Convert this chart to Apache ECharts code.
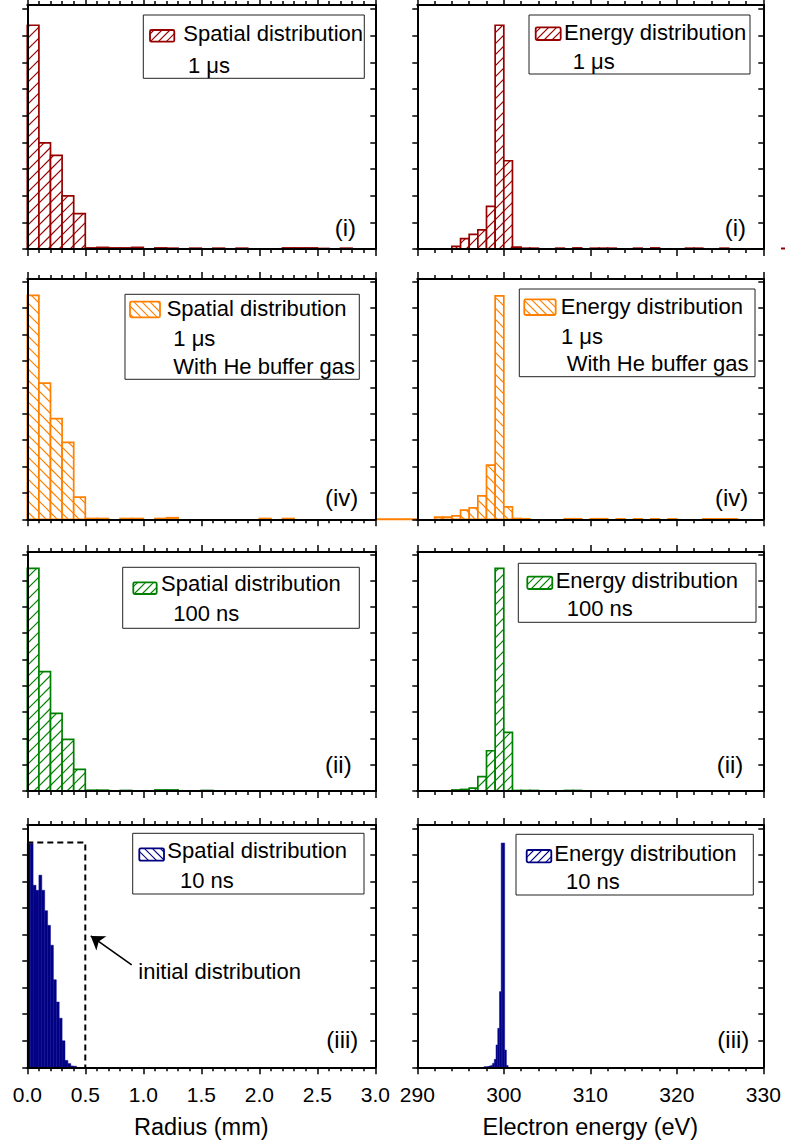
<!DOCTYPE html>
<html><head><meta charset="utf-8">
<script src="https://cdn.jsdelivr.net/npm/echarts@6/dist/echarts.min.js"></script>
<style>html,body{margin:0;padding:0;background:#fff}#c{width:785px;height:1146px}</style>
</head><body><div id="c"></div>
<script>
// ================= DATA (arbitrary units: 1 = one y tick) =================
const radiusTickLabels = ['0.0', '0.5', '1.0', '1.5', '2.0', '2.5', '3.0'];
const energyTickLabels = ['290', '300', '310', '320', '330'];

// spatial histograms: 0.1 mm bins starting at 0 mm
const spatialBinWidth = 0.1;
const spatial_i  = [8.39, 3.98, 3.51, 1.99, 1.33, 0.04, 0.06, 0.04, 0.04, 0.06, 0, 0.04, 0.03, 0, 0.03, 0, 0.03, 0, 0.03, 0, 0, 0, 0.04, 0.04, 0.04, 0.02, 0, 0.03, 0, 0];
const spatial_iv = [8.48, 5.16, 3.81, 2.91, 0.84, 0.03, 0.03, 0, 0.03, 0.03, 0, 0.03, 0.06, 0, 0, 0, 0, 0, 0, 0, 0.03, 0, 0.03, 0, 0, 0, 0, 0, 0, 0];
const spatial_ii = [8.47, 4.54, 2.95, 1.96, 0.82, 0.03, 0.03, 0, 0.02, 0, 0, 0.04, 0.04, 0, 0, 0.02, 0, 0, 0, 0, 0, 0, 0, 0, 0, 0, 0, 0, 0, 0];
// 10 ns spatial: 0.025 mm bins starting at 0 mm
const spatialFineBinWidth = 0.025;
const spatial_iii = [8.43, 8.43, 6.86, 6.67, 7.24, 6.67, 5.9, 5.35, 4.6, 3.3, 2.46, 1.85, 1.0, 0.26, 0.14, 0.05, 0.04];

// energy histograms: 1 eV bins starting at 290 eV
const energyBinWidth = 1;
const energyStart = 290;
const energy_i  = [0, 0, 0, 0, 0.10, 0.39, 0.55, 0.72, 1.60, 8.39, 3.31, 0.07, 0.03, 0.03, 0, 0, 0.03, 0, 0.04, 0, 0.03, 0.03, 0.03, 0, 0, 0.03, 0, 0.04, 0, 0, 0, 0.03, 0.03, 0, 0, 0.03, 0, 0, 0, 0];
const energy_iv = [0, 0, 0.08, 0.08, 0.13, 0.35, 0.43, 0.89, 2.05, 8.46, 0.47, 0.03, 0.02, 0, 0, 0, 0, 0.02, 0.02, 0, 0.02, 0.02, 0, 0.015, 0, 0.015, 0, 0.015, 0, 0.015, 0, 0, 0, 0.015, 0.015, 0.015, 0.015, 0, 0, 0];
const energy_ii = [0, 0, 0, 0, 0.04, 0.06, 0.11, 0.55, 1.53, 8.47, 2.23, 0.02, 0.02, 0.02, 0, 0, 0, 0.02, 0.02, 0, 0, 0, 0, 0, 0, 0, 0, 0, 0, 0, 0, 0, 0, 0, 0, 0, 0, 0, 0, 0];
// 10 ns energy: 0.2 eV bins starting at 297.7 eV
const energyFineBinWidth = 0.2;
const energyFineStart = 297.7;
const energy_iii = [0.02, 0.02, 0.03, 0.05, 0.07, 0.15, 0.3, 0.84, 1.47, 2.85, 8.45, 8.45, 0.65, 0.07];

// initial distribution (dashed box) and its arrow, in data units of panel (iii)
const initialDistX = [0, 0.5, 0.5];
const initialDistY = [8.47, 8.47, 0];
const arrowFrom = [0.9, 3.86];
const arrowTo = [0.547, 4.95];

const panelLabels = ['(i)', '(iv)', '(ii)', '(iii)'];
const legendTitles = ['Spatial distribution', 'Energy distribution'];
const legendNotes = [['1 μs'], ['1 μs', 'With He buffer gas'], ['100 ns'], ['10 ns']];
const annotationText = 'initial distribution';
const xAxisNames = ['Radius (mm)', 'Electron energy (eV)'];

// ================= LAYOUT / STYLE =================
const FONT = '"Liberation Sans", Arial, Helvetica, sans-serif';
const rowLayout = [
  { top: 5,   height: 244,   ymax: 9.15 },
  { top: 279, height: 240.3, ymax: 9.10 },
  { top: 552, height: 239,   ymax: 9.09 },
  { top: 825, height: 242.3, ymax: 9.13 }
];
const colLayout = [{ left: 27.3, width: 348 }, { left: 417.3, width: 346 }];
const rowColors = ['#960000', '#ff8000', '#008000', '#000080'];
const rowHatch = [['/', '/'], ['\\', '\\'], ['/', '/'], ['\\', '/']];

// legend boxes: [boxX, boxY, boxW, boxH], swatch [x, y, w, h], title [x, y], notes x[], y[]
const legendLayout = [
  [{ box: [143.3, 15, 221, 63.3], sw: [150, 30, 24.3, 11.7], t: [183.3, 33.3], nx: [188], ny: [65] },
   { box: [529, 15, 221, 59], sw: [535.7, 27.3, 25, 12.7], t: [564, 32.3], nx: [572.7], ny: [61.7] }],
  [{ box: [125, 294.3, 234.3, 85], sw: [130, 301.7, 30, 15.6], t: [166.7, 308.3], nx: [173.3, 173.3], ny: [338.3, 366.7] },
   { box: [519.3, 289, 235.7, 87.7], sw: [524.3, 299.3, 31.4, 15.7], t: [560.7, 306], nx: [561, 566.7], ny: [336.7, 363.3] }],
  [{ box: [122.7, 567.3, 236.6, 61], sw: [133.3, 582.3, 23.4, 11.7], t: [161, 583.3], nx: [173.3], ny: [613.3] },
   { box: [518.3, 563.3, 237.7, 59], sw: [527.3, 576.7, 25, 12.3], t: [555.7, 580], nx: [566.7], ny: [608.3] }],
  [{ box: [132.7, 833.3, 231.3, 60.7], sw: [139.3, 848.3, 24.7, 12.4], t: [167.3, 850.7], nx: [180], ny: [880] },
   { box: [516, 834.3, 237.3, 60.7], sw: [526.7, 850, 24.6, 12.3], t: [554.3, 853.3], nx: [566], ny: [881.7] }]
];
const panelLabelPos = [
  [[356, 227.7], [746, 227.7]],
  [[358.3, 497.7], [748.3, 497.7]],
  [[351.7, 764.3], [743.3, 764.3]],
  [[358.3, 1039.3], [749.3, 1039.3]]
];

// ================= HELPERS =================
function hatchLines(x, y, w, h, s, dir, color, lw) {
  const segs = [];
  if (dir === '/') {
    const cmin = x + y, cmax = x + w + y + h;
    for (let c = Math.ceil(cmin / s) * s; c <= cmax; c += s) {
      const lo = Math.max(x, c - (y + h)), hi = Math.min(x + w, c - y);
      if (hi - lo > 0.4) segs.push([lo, c - lo, hi, c - hi]);
    }
  } else {
    const cmin = y - (x + w), cmax = y + h - x;
    for (let c = Math.ceil(cmin / s) * s; c <= cmax; c += s) {
      const lo = Math.max(x, y - c), hi = Math.min(x + w, y + h - c);
      if (hi - lo > 0.4) segs.push([lo, lo + c, hi, hi + c]);
    }
  }
  return segs.map(p => ({
    type: 'line', silent: true,
    shape: { x1: p[0], y1: p[1], x2: p[2], y2: p[3] },
    style: { stroke: color, lineWidth: lw }
  }));
}

function histData(values, start, width) {
  return values.map((v, i) => [start + i * width, start + (i + 1) * width, v]);
}

function makeRender(color, dir, solid) {
  return function (params, api) {
    const v = api.value(2);
    if (!(v > 0)) return null;
    const p0 = api.coord([api.value(0), v]);
    const p1 = api.coord([api.value(1), 0]);
    const x = p0[0], y = p0[1], w = p1[0] - p0[0], h = p1[1] - p0[1];
    const children = [];
    if (solid) {
      children.push({ type: 'rect', shape: { x, y, width: w, height: h },
        style: { fill: color, stroke: '#0c0c96', lineWidth: 0.5 } });
    } else {
      children.push({ type: 'rect', shape: { x, y, width: w, height: h }, style: { fill: '#fff' } });
      hatchLines(x, y, w, h, 11, dir, color, 1.2).forEach(l => children.push(l));
      children.push({ type: 'rect', shape: { x, y, width: w, height: h },
        style: { fill: 'none', stroke: color, lineWidth: 1.7 } });
    }
    return { type: 'group', children };
  };
}

// ================= BUILD OPTION =================
const grids = [], xAxes = [], yAxes = [], series = [], graphics = [];
const spatialSets = [spatial_i, spatial_iv, spatial_ii, spatial_iii];
const energySets = [energy_i, energy_iv, energy_ii, energy_iii];

const axisLineStyle = { color: '#000', width: 2 };
const tickStyle = { color: '#000', width: 1.5 };

for (let r = 0; r < 4; r++) {
  for (let c = 0; c < 2; c++) {
    const g = 2 * r + c;
    const isEnergy = c === 1;
    const last = r === 3;
    grids.push({ left: colLayout[c].left, width: colLayout[c].width, top: rowLayout[r].top, height: rowLayout[r].height });
    const xbase = {
      gridIndex: g, type: 'value',
      min: isEnergy ? 290 : 0, max: isEnergy ? 330 : 3, interval: isEnergy ? 10 : 0.5,
      axisLine: { show: true, onZero: false, lineStyle: axisLineStyle },
      axisTick: { show: true, length: 7, lineStyle: tickStyle },
      minorTick: { show: true, splitNumber: 5, length: 4, lineStyle: tickStyle },
      splitLine: { show: false }, minorSplitLine: { show: false }, z: 5
    };
    const labels = isEnergy ? energyTickLabels : radiusTickLabels;
    const lo = isEnergy ? 290 : 0, step = isEnergy ? 10 : 0.5;
    xAxes.push(Object.assign({}, xbase, {
      position: 'bottom',
      axisLabel: last ? {
        show: true, margin: 17, color: '#000', fontSize: 21, fontFamily: FONT,
        formatter: v => labels[Math.round((v - lo) / step)]
      } : { show: false },
      name: last ? xAxisNames[c] : '', nameLocation: 'middle', nameGap: 48,
      nameTextStyle: { color: '#000', fontSize: 23.5, fontFamily: FONT }
    }));
    xAxes.push(Object.assign({}, xbase, { position: 'top', axisLabel: { show: false } }));
    const ybase = {
      gridIndex: g, type: 'value', min: 0, max: rowLayout[r].ymax, interval: 1,
      axisLine: { show: true, onZero: false, lineStyle: axisLineStyle },
      axisLabel: { show: false }, splitLine: { show: false }, z: 5
    };
    const yTicks = [0, 1, 2, 3, 4, 5, 6, 7, 8, 9];
    yAxes.push(Object.assign({}, ybase, { position: 'left',
      axisTick: { show: true, length: 5, inside: false, lineStyle: tickStyle, customValues: yTicks } }));
    yAxes.push(Object.assign({}, ybase, { position: 'right',
      axisTick: { show: true, length: 5, inside: true, lineStyle: tickStyle, customValues: yTicks } }));

    // histogram series
    let data;
    if (!isEnergy) data = histData(spatialSets[r], 0, last ? spatialFineBinWidth : spatialBinWidth);
    else data = last ? histData(energySets[r], energyFineStart, energyFineBinWidth)
                     : histData(energySets[r], energyStart, energyBinWidth);
    series.push({
      type: 'custom', name: legendTitles[c] + ' ' + panelLabels[r],
      xAxisIndex: 2 * g, yAxisIndex: 2 * g, silent: true, z: 2,
      encode: { x: [0, 1], y: 2 },
      renderItem: makeRender(rowColors[r], rowHatch[r][c], last),
      data
    });

    // legend box (drawn with graphic)
    const L = legendLayout[r][c];
    const children = [];
    children.push({ type: 'rect', shape: { x: L.box[0], y: L.box[1], width: L.box[2], height: L.box[3] },
      style: { fill: '#fff', stroke: '#222', lineWidth: 1 } });
    children.push({ type: 'rect', shape: { x: L.sw[0], y: L.sw[1], width: L.sw[2], height: L.sw[3] },
      style: { fill: '#fff' } });
    hatchLines(L.sw[0], L.sw[1], L.sw[2], L.sw[3], 8, rowHatch[r][c], rowColors[r], 1.1).forEach(l => children.push(l));
    children.push({ type: 'rect', shape: { x: L.sw[0], y: L.sw[1], width: L.sw[2], height: L.sw[3], r: 1.5 },
      style: { fill: 'none', stroke: rowColors[r], lineWidth: 1.8 } });
    children.push({ type: 'text', style: { text: legendTitles[c], x: L.t[0], y: L.t[1],
      font: '22px ' + FONT, fill: '#000', verticalAlign: 'middle', align: 'left' } });
    legendNotes[r].forEach((note, k) => {
      children.push({ type: 'text', style: { text: note, x: L.nx[k], y: L.ny[k],
        font: '22px ' + FONT, fill: '#000', verticalAlign: 'middle', align: 'left' } });
    });
    // panel label
    const P = panelLabelPos[r][c];
    children.push({ type: 'text', style: { text: panelLabels[r], x: P[0], y: P[1],
      font: '24px ' + FONT, fill: '#000', verticalAlign: 'middle', align: 'right' } });
    graphics.push({ type: 'group', z: 10, silent: true, children });
  }
}

// initial distribution dashed box + arrow on panel (iii) spatial (grid 6)
series.push({
  type: 'line', name: 'initial distribution', xAxisIndex: 12, yAxisIndex: 12,
  data: initialDistX.map((x, i) => [x, initialDistY[i]]),
  symbol: 'none', silent: true, z: 6,
  lineStyle: { color: '#000', width: 2, type: [6, 4] },
  markLine: {
    silent: true, symbol: ['none', 'arrow'], symbolSize: 13,
    label: { show: false },
    lineStyle: { color: '#000', width: 1.6, type: 'solid' },
    data: [[{ coord: arrowFrom }, { coord: arrowTo }]]
  }
});
graphics.push({ type: 'text', z: 10, silent: true,
  style: { text: annotationText, x: 138.3, y: 971, font: '22px ' + FONT, fill: '#000',
    verticalAlign: 'middle', align: 'left' } });
// small stray strokes visible in the source figure
graphics.push({ type: 'line', z: 1, silent: true, shape: { x1: 375, y1: 519.3, x2: 417, y2: 519.3 },
  style: { stroke: '#ff8000', lineWidth: 2 } });
graphics.push({ type: 'line', z: 1, silent: true, shape: { x1: 781, y1: 248.5, x2: 785, y2: 248.5 },
  style: { stroke: '#960000', lineWidth: 2 } });

const chart = echarts.init(document.getElementById('c'), null, { renderer: 'svg', width: 785, height: 1146 });
chart.setOption({
  animation: false,
  backgroundColor: '#fff',
  grid: grids, xAxis: xAxes, yAxis: yAxes, series, graphic: graphics
});
</script></body></html>
